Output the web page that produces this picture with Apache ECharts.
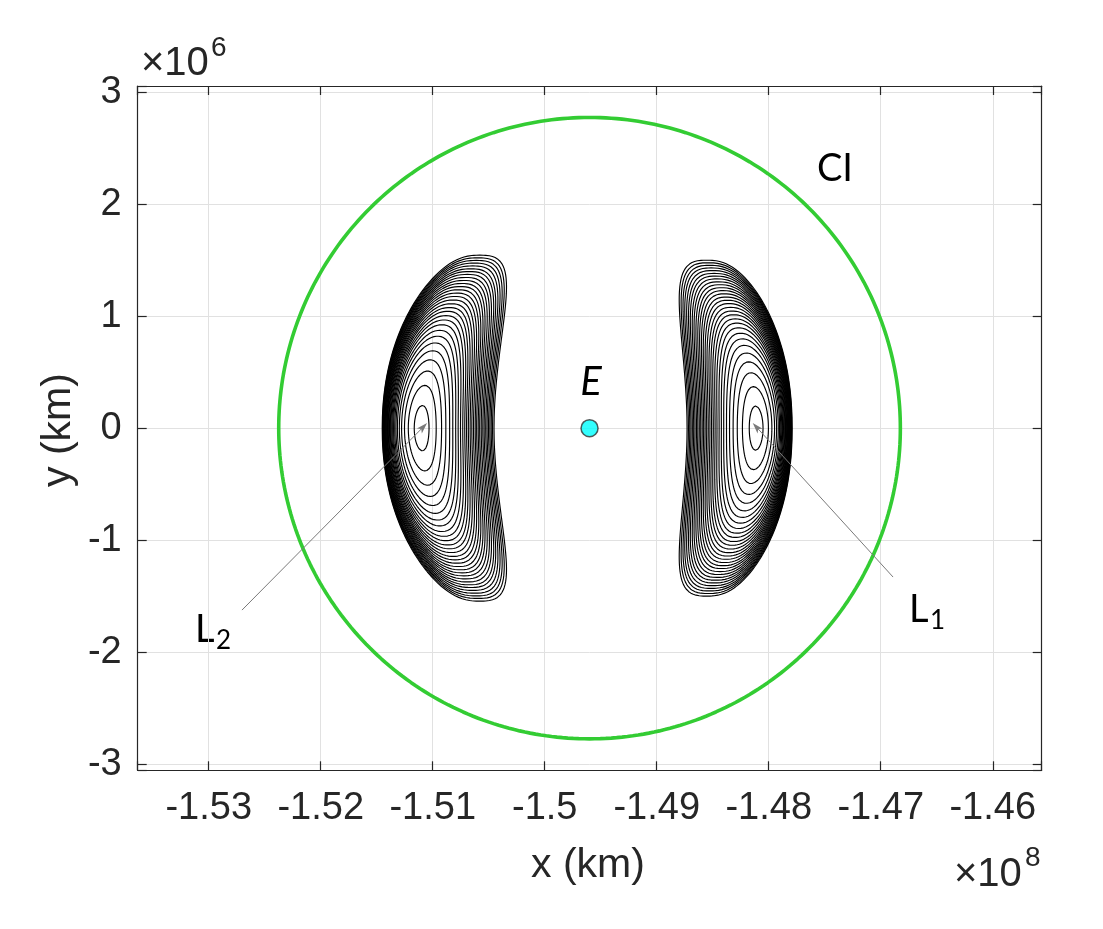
<!DOCTYPE html>
<html><head><meta charset="utf-8">
<script src="https://cdn.jsdelivr.net/npm/echarts@6/dist/echarts.min.js"></script>
<style>html,body{margin:0;padding:0;background:#fff}#c{width:1103px;height:929px}</style>
</head><body><div id="c"></div>
<script>
// ---- axis ranges / ticks (x in 1e8 km, y in 1e6 km) ----
const X_MIN = -1.53634, X_MAX = -1.45563;
const Y_MIN = -3.056, Y_MAX = 3.056;
const xTickValues = [-1.53, -1.52, -1.51, -1.5, -1.49, -1.48, -1.47, -1.46];
const xTickLabels = ['-1.53', '-1.52', '-1.51', '-1.5', '-1.49', '-1.48', '-1.47', '-1.46'];
const yTickValues = [-3, -2, -1, 0, 1, 2, 3];
const yTickLabels = ['-3', '-2', '-1', '0', '1', '2', '3'];

// ---- bodies ----
const EARTH_X = -1.4960;          // 1e8 km
const L1_DIST = 1.49;             // 1e6 km from Earth (sunward, +x)
const L2_DIST = 1.50;             // 1e6 km from Earth (anti-sunward, -x)
const CIRCLE_RADIUS = 2.775;      // 1e6 km

// ---- Lyapunov orbit families (1e6 km, relative to the libration point) ----
// near: crossing of y=0 on the Earth side, far: crossing on the far side, half: half height
const L1_near = [0.064,0.125,0.171,0.208,0.240,0.267,0.292,0.313,0.333,0.352,0.369,0.385,0.400,0.415,0.430,0.444,0.458,0.471,0.484,0.497,0.510,0.523,0.535,0.548,0.560,0.572,0.584,0.595,0.607,0.619];
const L1_far  = [0.059,0.107,0.138,0.162,0.180,0.195,0.207,0.217,0.226,0.234,0.241,0.248,0.254,0.260,0.265,0.270,0.275,0.279,0.283,0.287,0.291,0.295,0.298,0.301,0.305,0.308,0.311,0.313,0.316,0.319];
const L1_half = [0.197,0.371,0.495,0.592,0.671,0.739,0.797,0.848,0.896,0.938,0.976,1.013,1.046,1.079,1.112,1.142,1.171,1.200,1.228,1.254,1.281,1.307,1.333,1.358,1.382,1.407,1.431,1.454,1.477,1.500];
const L2_near = [0.067,0.131,0.179,0.217,0.251,0.279,0.305,0.327,0.348,0.368,0.386,0.402,0.418,0.434,0.449,0.464,0.479,0.492,0.506,0.519,0.533,0.547,0.559,0.573,0.585,0.598,0.610,0.622,0.634,0.647];
const L2_far  = [0.065,0.118,0.152,0.178,0.198,0.215,0.228,0.239,0.249,0.257,0.265,0.273,0.279,0.286,0.292,0.297,0.303,0.307,0.311,0.316,0.320,0.325,0.328,0.331,0.336,0.339,0.342,0.344,0.348,0.351];
const L2_half = [0.203,0.382,0.510,0.610,0.691,0.761,0.821,0.873,0.923,0.966,1.005,1.043,1.077,1.111,1.145,1.176,1.206,1.236,1.265,1.292,1.319,1.346,1.373,1.399,1.423,1.449,1.474,1.498,1.521,1.545];
const L1_BEND = 0.131, L2_BEND = 0.156;   // banana bending toward Earth
const MAX_SQUARENESS = 2.7;

const L1X = EARTH_X + L1_DIST / 100;
const L2X = EARTH_X - L2_DIST / 100;

function orbit(Lx, dir, near, far, half, bend, hMax) {
  const xc = (far - near) / 2, hw = (far + near) / 2;
  const n = 2 + (MAX_SQUARENESS - 2) * Math.pow(half / hMax, 2);
  const pts = [];
  const N = 260;
  for (let i = 0; i <= N; i++) {
    const t = i / N * 2 * Math.PI;
    const c = Math.cos(t), s = Math.sin(t);
    const sx = Math.sign(c) * Math.pow(Math.abs(c), 2 / n);
    const sy = Math.sign(s) * Math.pow(Math.abs(s), 2 / n);
    const y = half * sy;
    const u = xc + hw * sx - bend * y * y;
    pts.push([Lx + dir * u / 100, y]);
  }
  return pts;
}

const series = [];
// Circle
const circ = [];
for (let i = 0; i <= 360; i++) {
  const a = i * Math.PI / 180;
  circ.push([EARTH_X + CIRCLE_RADIUS * Math.cos(a) / 100, CIRCLE_RADIUS * Math.sin(a)]);
}
const arrowPath = 'path://M5,0 L10,16 L5,12 L0,16 Z';
series.push({
  type: 'line', data: circ, symbol: 'none', silent: true, animation: false, z: 2,
  lineStyle: { color: '#33cc33', width: 3.6 },
  markLine: {
    silent: true, animation: false, symbol: ['none', arrowPath], symbolSize: [7, 11],
    label: { show: false }, emphasis: { disabled: true },
    lineStyle: { color: '#7a7a7a', width: 1, type: 'solid' },
    data: [
      [{ coord: [-1.46890, -1.330] }, { coord: [L1X, 0.01] }],
      [{ coord: [-1.52703, -1.625] }, { coord: [L2X + 0.00015, 0.01] }]
    ]
  }
});
const h1max = Math.max(...L1_half), h2max = Math.max(...L2_half);
for (let i = 0; i < L1_near.length; i++) {
  series.push({ type: 'line', data: orbit(L1X, 1, L1_near[i], L1_far[i], L1_half[i], L1_BEND, h1max),
    symbol: 'none', silent: true, animation: false, z: 3, lineStyle: { color: '#000', width: 1.15 } });
}
for (let i = 0; i < L2_near.length; i++) {
  series.push({ type: 'line', data: orbit(L2X, -1, L2_near[i], L2_far[i], L2_half[i], L2_BEND, h2max),
    symbol: 'none', silent: true, animation: false, z: 3, lineStyle: { color: '#000', width: 1.15 } });
}
series.push({ type: 'scatter', data: [[EARTH_X, 0]], symbol: 'circle', symbolSize: 17, silent: true, animation: false, z: 6,
  itemStyle: { color: '#00ffff', borderColor: '#333', borderWidth: 1.5 } });

const AX = '#262626';
const FONT = 'Liberation Sans, Arial, sans-serif';
function fmt(vals, labels) {
  return function (v) {
    for (let i = 0; i < vals.length; i++) if (Math.abs(v - vals[i]) < 1e-7) return labels[i];
    return '';
  };
}
const frameLine = { show: true, onZero: false, lineStyle: { color: AX, width: 1.2 } };
const tick = { show: true, inside: true, length: 9, lineStyle: { color: AX, width: 1.2 } };

const option = {
  backgroundColor: '#fff',
  animation: false,
  grid: { left: 137.7, right: 61.3, top: 86, bottom: 158.7, containLabel: false, outerBoundsMode: 'none' },
  xAxis: [
    { type: 'value', min: X_MIN, max: X_MAX, splitNumber: 8, axisLine: frameLine, axisTick: tick,
      axisLabel: { margin: 19, fontSize: 38, color: AX, fontFamily: FONT, formatter: fmt(xTickValues, xTickLabels), showMinLabel: true, showMaxLabel: true, hideOverlap: false },
      splitLine: { show: true, lineStyle: { color: '#e1e1e1', width: 1 } } },
    { type: 'value', position: 'top', min: X_MIN, max: X_MAX, splitNumber: 8, axisLine: frameLine, axisTick: tick,
      axisLabel: { show: false }, splitLine: { show: false } }
  ],
  yAxis: [
    { type: 'value', min: Y_MIN, max: Y_MAX, splitNumber: 6, axisLine: frameLine, axisTick: tick,
      axisLabel: { margin: 16, fontSize: 38, color: AX, fontFamily: FONT, formatter: fmt(yTickValues, yTickLabels), hideOverlap: false },
      splitLine: { show: true, lineStyle: { color: '#e1e1e1', width: 1 } } },
    { type: 'value', position: 'right', min: Y_MIN, max: Y_MAX, splitNumber: 6, axisLine: frameLine, axisTick: tick,
      axisLabel: { show: false }, splitLine: { show: false } }
  ],
  graphic: [
    { type: 'text', x: 141, y: 64, style: { text: '×10', font: '40px ' + FONT, fill: AX, align: 'left', verticalAlign: 'middle' } },
    { type: 'text', x: 211, y: 48, style: { text: '6', font: '28px ' + FONT, fill: AX, align: 'left', verticalAlign: 'middle' } },
    { type: 'text', x: 954, y: 875, style: { text: '×10', font: '40px ' + FONT, fill: AX, align: 'left', verticalAlign: 'middle' } },
    { type: 'text', x: 1025, y: 858, style: { text: '8', font: '28px ' + FONT, fill: AX, align: 'left', verticalAlign: 'middle' } },
    { type: 'text', x: 588, y: 866, style: { text: 'x (km)', font: '41px ' + FONT, fill: AX, align: 'center', verticalAlign: 'middle' } },
    { type: 'text', x: 59, y: 430, rotation: Math.PI / 2, style: { text: 'y (km)', font: '41px ' + FONT, fill: AX, align: 'center', verticalAlign: 'middle' } },
    { type: 'text', x: 835, y: 169, style: { text: 'CI', font: '38px Lato, sans-serif', fill: '#000', align: 'center', verticalAlign: 'middle' } },
    { type: 'text', x: 591, y: 382, style: { text: 'E', font: 'italic 40px Lato, sans-serif', fill: '#000', align: 'center', verticalAlign: 'middle' } },
    { type: 'text', x: 195, y: 630, style: { text: 'L', font: '38px Lato, sans-serif', fill: '#000', align: 'left', verticalAlign: 'middle' } },
    { type: 'text', x: 216, y: 641, style: { text: '2', font: '26px Lato, sans-serif', fill: '#000', align: 'left', verticalAlign: 'middle' } },
    { type: 'text', x: 909, y: 610, style: { text: 'L', font: '38px Lato, sans-serif', fill: '#000', align: 'left', verticalAlign: 'middle' } },
    { type: 'text', x: 930, y: 621, style: { text: '1', font: '26px Lato, sans-serif', fill: '#000', align: 'left', verticalAlign: 'middle' } }
  ],
  series: series
};
const chart = echarts.init(document.getElementById('c'), null, { renderer: 'canvas' });
chart.setOption(option);
</script></body></html>
